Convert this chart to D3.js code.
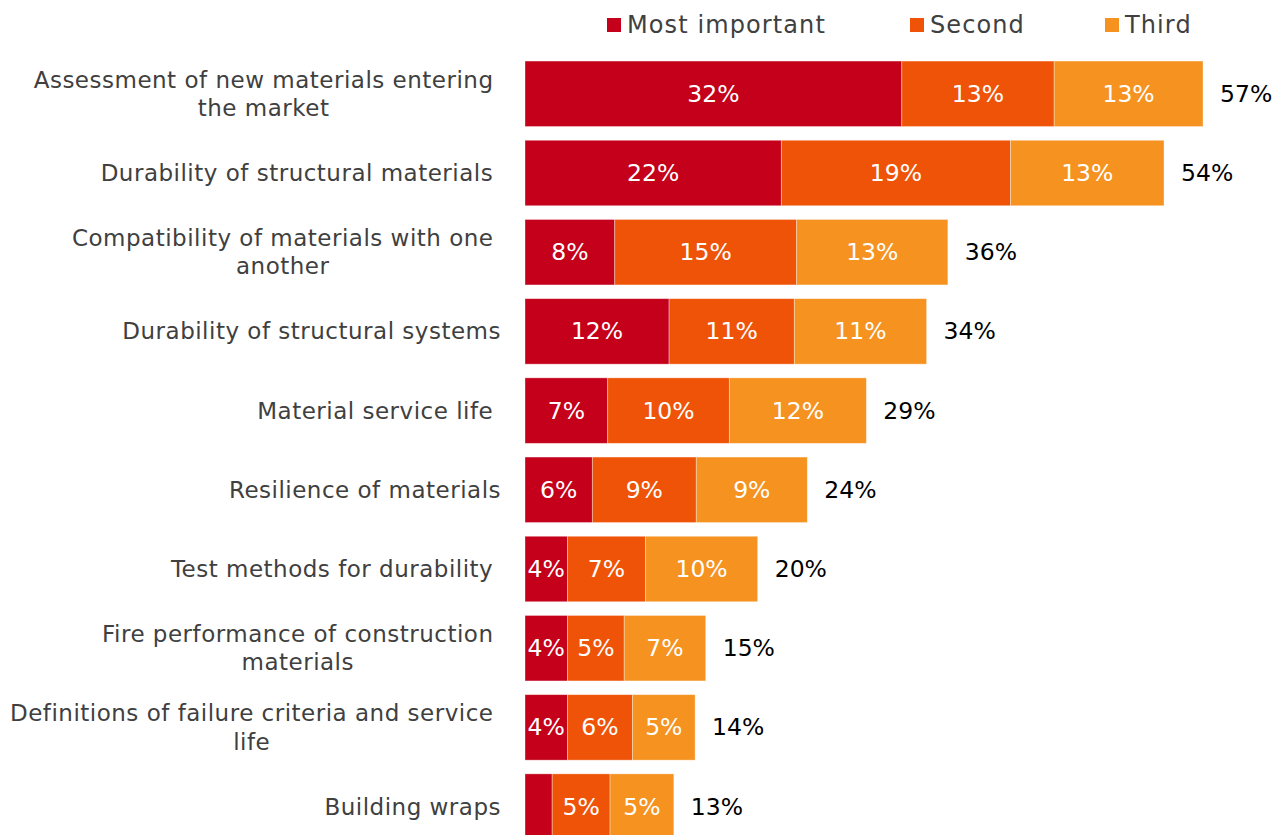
<!DOCTYPE html>
<html>
<head>
<meta charset="utf-8">
<script src="https://cdn.jsdelivr.net/npm/d3@7/dist/d3.min.js"></script>
<style>
  html, body { margin: 0; padding: 0; background: #fff; overflow: hidden; }
  svg { display: block; }
</style>
</head>
<body>
<svg id="chart" width="1277" height="835"></svg>
<script>
// ---- data ----
const categories = [
  "Assessment of new materials entering\nthe market",
  "Durability of structural materials\u00a0",
  "Compatibility of materials with one\nanother",
  "Durability of structural systems",
  "Material service life\u00a0",
  "Resilience of materials",
  "Test methods for durability\u00a0",
  "Fire performance of construction\nmaterials",
  "Definitions of failure criteria and service\nlife",
  "Building wraps"
];
const seriesNames = ["Most important", "Second", "Third"];
const mostImportant = [31.9, 21.7, 7.6, 12.2, 7.0, 5.7, 3.6, 3.6, 3.6, 2.3];
const second        = [12.9, 19.4, 15.4, 10.6, 10.3, 8.8, 6.6, 4.8, 5.5, 4.9];
const third         = [12.6, 13.0, 12.8, 11.2, 11.6, 9.4, 9.5, 6.9, 5.3, 5.4];
const colors = ["#C4001A", "#EF5307", "#F59220"];

// ---- layout ----
const svg = d3.select("#chart");
const x0 = 525, x1 = 1203;
const rows = categories.map((c, i) => {
  const vals = [mostImportant[i], second[i], third[i]];
  return { cat: c, vals, total: d3.sum(vals) };
});
const x = d3.scaleLinear().domain([0, d3.max(rows, r => r.total)]).range([x0, x1]);
const y = d3.scaleBand().domain(d3.range(categories.length))
  .range([54.2, 846.2]).paddingInner(0.173).paddingOuter(0.0865);

const font = "'DejaVu Sans', Verdana, sans-serif";
const pct = v => d3.format(".0f")(v) + "%";

// bars
const g = svg.append("g");
rows.forEach((r, i) => {
  let acc = 0;
  r.vals.forEach((v, j) => {
    const xs = x(acc), xe = x(acc + v);
    g.append("rect")
      .attr("x", xs).attr("y", y(i))
      .attr("width", xe - xs).attr("height", y.bandwidth())
      .attr("fill", colors[j])
      .attr("stroke", "rgba(255,255,255,0.45)").attr("stroke-width", 0.8);
    if (v >= 3) {
      g.append("text")
        .attr("x", (xs + xe) / 2).attr("y", y(i) + y.bandwidth() / 2)
        .attr("text-anchor", "middle").attr("dominant-baseline", "central")
        .attr("font-family", font)
        .attr("font-size", 23.5).attr("fill", "#fff")
        .text(pct(v));
    }
    acc += v;
  });
  // total
  g.append("text")
    .attr("x", x(r.total) + 17).attr("y", y(i) + y.bandwidth() / 2)
    .attr("text-anchor", "start").attr("dominant-baseline", "central")
    .attr("font-family", font)
    .attr("font-size", 23.5).attr("fill", "#000")
    .text(pct(r.total));
});

// category labels (multi-line labels centered within a right-aligned block)
const lab = svg.append("g");
const lineH = 28.5;
rows.forEach((r, i) => {
  const lines = r.cat.split("\n");
  const cy = y(i) + y.bandwidth() / 2;
  const t = lab.append("text")
    .attr("font-family", font).attr("font-size", 23)
    .attr("letter-spacing", 0.5)
    .attr("fill", "#404040").attr("dominant-baseline", "central");
  const tspans = lines.map((ln, k) => t.append("tspan")
      .attr("y", cy + (k - (lines.length - 1) / 2) * lineH)
      .text(ln));
  if (lines.length === 1) {
    t.attr("text-anchor", "end");
    tspans[0].attr("x", 501);
  } else {
    const widths = tspans.map(ts => ts.node().getComputedTextLength());
    const w = d3.max(widths);
    const cx = 493.5 - w / 2;
    t.attr("text-anchor", "middle");
    tspans.forEach(ts => ts.attr("x", cx));
  }
});

// legend
const legX = [607, 910, 1105];
const leg = svg.append("g");
seriesNames.forEach((n, j) => {
  leg.append("rect").attr("x", legX[j]).attr("y", 18).attr("width", 14).attr("height", 14)
    .attr("fill", colors[j]);
  leg.append("text").attr("x", legX[j] + 20).attr("y", 33)
    .attr("font-family", font).attr("letter-spacing", 1.1)
    .attr("font-size", 24).attr("fill", "#404040").text(n);
});
</script>
</body>
</html>
